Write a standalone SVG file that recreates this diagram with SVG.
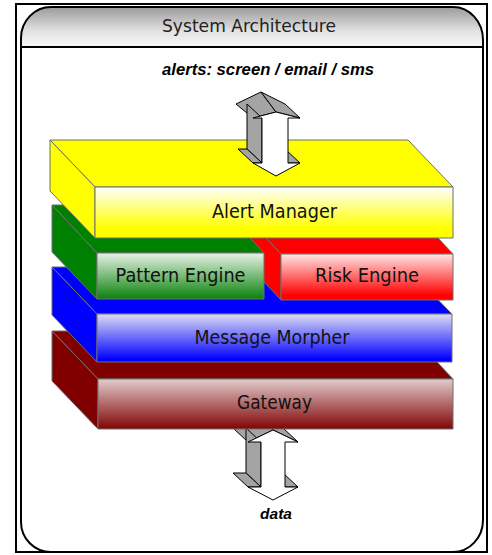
<svg xmlns="http://www.w3.org/2000/svg" width="492" height="555" viewBox="0 0 492 555">
  <style>
    .frame { fill: none; stroke: #000; stroke-width: 2; }
    .edge { stroke: #6e6e6e; stroke-width: 1; stroke-linejoin: round; }
    .label { font-family: "DejaVu Sans", "Liberation Sans", sans-serif; font-size: 20px; fill: #111; text-anchor: middle; }
    .title { font-family: "DejaVu Sans", "Liberation Sans", sans-serif; font-size: 18px; fill: #222; text-anchor: middle; }
    .note { font-family: "Liberation Sans", Arial, sans-serif; font-weight: bold; font-style: italic; fill: #000; text-anchor: middle; }
    .arrow-front { fill: #fff; stroke: #000; stroke-width: 1; stroke-linejoin: miter; }
    .arrow-side { fill: #a4a4a4; stroke: #000; stroke-width: 1; stroke-linejoin: miter; }
    .yellow { fill: #ffff00; }
    .green { fill: #008000; }
    .red { fill: #ff0000; }
    .blue { fill: #0000ff; }
    .maroon { fill: #800000; }
  </style>
  <defs>
    <linearGradient id="gHeader" x1="0" y1="0" x2="0" y2="1">
      <stop offset="0" stop-color="#9a9a9a"/>
      <stop offset="0.6" stop-color="#e2e2e2"/>
      <stop offset="1" stop-color="#f7f7f7"/>
    </linearGradient>
    <linearGradient id="gYellow" x1="0" y1="0" x2="0" y2="1">
      <stop offset="0" stop-color="#ffffff"/>
      <stop offset="0.8" stop-color="#ffff00"/>
      <stop offset="1" stop-color="#ffff00"/>
    </linearGradient>
    <linearGradient id="gGreen" x1="0" y1="0" x2="0" y2="1">
      <stop offset="0" stop-color="#e6f2e6"/>
      <stop offset="1" stop-color="#0a820a"/>
    </linearGradient>
    <linearGradient id="gRed" x1="0" y1="0" x2="0" y2="1">
      <stop offset="0" stop-color="#ffe6e6"/>
      <stop offset="0.9" stop-color="#ff0000"/>
      <stop offset="1" stop-color="#ff0000"/>
    </linearGradient>
    <linearGradient id="gBlue" x1="0" y1="0" x2="0" y2="1">
      <stop offset="0" stop-color="#dcdcf4"/>
      <stop offset="0.95" stop-color="#0000ff"/>
      <stop offset="1" stop-color="#0000ff"/>
    </linearGradient>
    <linearGradient id="gMaroon" x1="0" y1="0" x2="0" y2="1">
      <stop offset="0" stop-color="#e2cccc"/>
      <stop offset="1" stop-color="#820404"/>
    </linearGradient>
  </defs>

  <!-- page frame -->
  <rect x="0" y="0" width="492" height="555" fill="#fff"/>
  <rect class="frame" x="16" y="4" width="471" height="548"/>

  <!-- rounded panel with title bar -->
  <g id="panel">
    <path d="M21,522 L21,38 A30,31 0 0 1 51,7 L453,7 A30,33 0 0 1 483,40 L483,520 A30,32 0 0 1 453,552 L51,552 A30,30 0 0 1 21,522 Z" fill="#fff"/>
    <path d="M21,47 L21,38 A30,31 0 0 1 51,7 L453,7 A30,33 0 0 1 483,40 L483,47 Z" fill="url(#gHeader)"/>
    <path class="frame" d="M21,522 L21,38 A30,31 0 0 1 51,7 L453,7 A30,33 0 0 1 483,40 L483,520 A30,32 0 0 1 453,552 L51,552 A30,30 0 0 1 21,522 Z"/>
    <line class="frame" x1="21" y1="47" x2="483" y2="47"/>
    <text class="title" x="249" y="32" textLength="174" lengthAdjust="spacingAndGlyphs">System Architecture</text>
  </g>

  <text class="note" x="268" y="75" font-size="16.5" textLength="212" lengthAdjust="spacingAndGlyphs">alerts: screen / email / sms</text>
  <text class="note" x="276" y="519" font-size="15.5">data</text>

  <!-- incoming data arrow (sits behind the gateway slab) -->
  <g id="connectors">
    <g id="data-arrow">
      <polygon class="arrow-side" points="248,442 273,430 258,416 233,428"/>
      <polygon class="arrow-side" points="273,430 298,442 283,428 258,416"/>
      <polygon class="arrow-side" points="261,442 261,487 246,473 246,428"/>
      <polygon class="arrow-side" points="248,487 261,487 246,473 233,473"/>
      <polygon class="arrow-side" points="285,487 298,487 283,473 270,473"/>
      <polygon class="arrow-front" points="273,430 298,442 285,442 285,487 298,487 273,500 248,487 261,487 261,442 248,442"/>
    </g>
  </g>

  <!-- Gateway -->
  <g id="gateway">
    <polygon class="maroon edge" points="52,331 408,331 453,379 98,379"/>
    <polygon class="maroon edge" points="52,331 98,379 98,429 52,381"/>
    <rect class="edge" x="98" y="379" width="355" height="50" fill="url(#gMaroon)"/>
    <text class="label" x="274.5" y="409" textLength="75" lengthAdjust="spacingAndGlyphs">Gateway</text>
  </g>

  <!-- Message Morpher -->
  <g id="message-morpher">
    <polygon class="blue edge" points="52,267 406,267 452,314 97,314"/>
    <polygon class="blue edge" points="52,267 97,314 97,362 52,315"/>
    <rect class="edge" x="97" y="314" width="355" height="48" fill="url(#gBlue)"/>
    <text class="label" x="272" y="344" textLength="155" lengthAdjust="spacingAndGlyphs">Message Morpher</text>
  </g>

  <!-- Risk Engine -->
  <g id="risk-engine">
    <polygon class="red edge" points="236,206 408,206 453,254 281,254"/>
    <polygon class="red edge" points="236,206 281,254 281,300 236,252"/>
    <rect class="edge" x="281" y="254" width="172" height="46" fill="url(#gRed)"/>
    <text class="label" x="367" y="282" textLength="104" lengthAdjust="spacingAndGlyphs">Risk Engine</text>
  </g>

  <!-- Pattern Engine -->
  <g id="pattern-engine">
    <polygon class="green edge" points="52,205 219,205 264,253 97,253"/>
    <polygon class="green edge" points="52,205 97,253 97,299 52,252"/>
    <rect class="edge" x="97" y="253" width="167" height="46" fill="url(#gGreen)"/>
    <text class="label" x="180.5" y="282" textLength="130" lengthAdjust="spacingAndGlyphs">Pattern Engine</text>
  </g>

  <!-- Alert Manager -->
  <g id="alert-manager">
    <polygon class="yellow edge" points="50,140 408,140 453,187 95,187"/>
    <polygon class="yellow edge" points="50,140 95,187 95,238 50,191"/>
    <rect class="edge" x="95" y="187" width="358" height="51" fill="url(#gYellow)"/>
    <text class="label" x="274.5" y="218" textLength="125" lengthAdjust="spacingAndGlyphs">Alert Manager</text>
  </g>

  <!-- outgoing alerts arrow -->
  <g id="alerts-arrow">
    <polygon class="arrow-side" points="253,118 276,112 261,92 236,104"/>
    <polygon class="arrow-side" points="276,112 300,118 285,104 261,92"/>
    <polygon class="arrow-side" points="262,118 262,163 247,149 247,104"/>
    <polygon class="arrow-side" points="253,163 262,163 247,149 238,149"/>
    <polygon class="arrow-side" points="288,163 300,163 285,149 273,149"/>
    <polygon class="arrow-front" points="276,112 300,118 288,118 288,163 300,163 276,176 253,163 262,163 262,118 253,118"/>
  </g>
</svg>
